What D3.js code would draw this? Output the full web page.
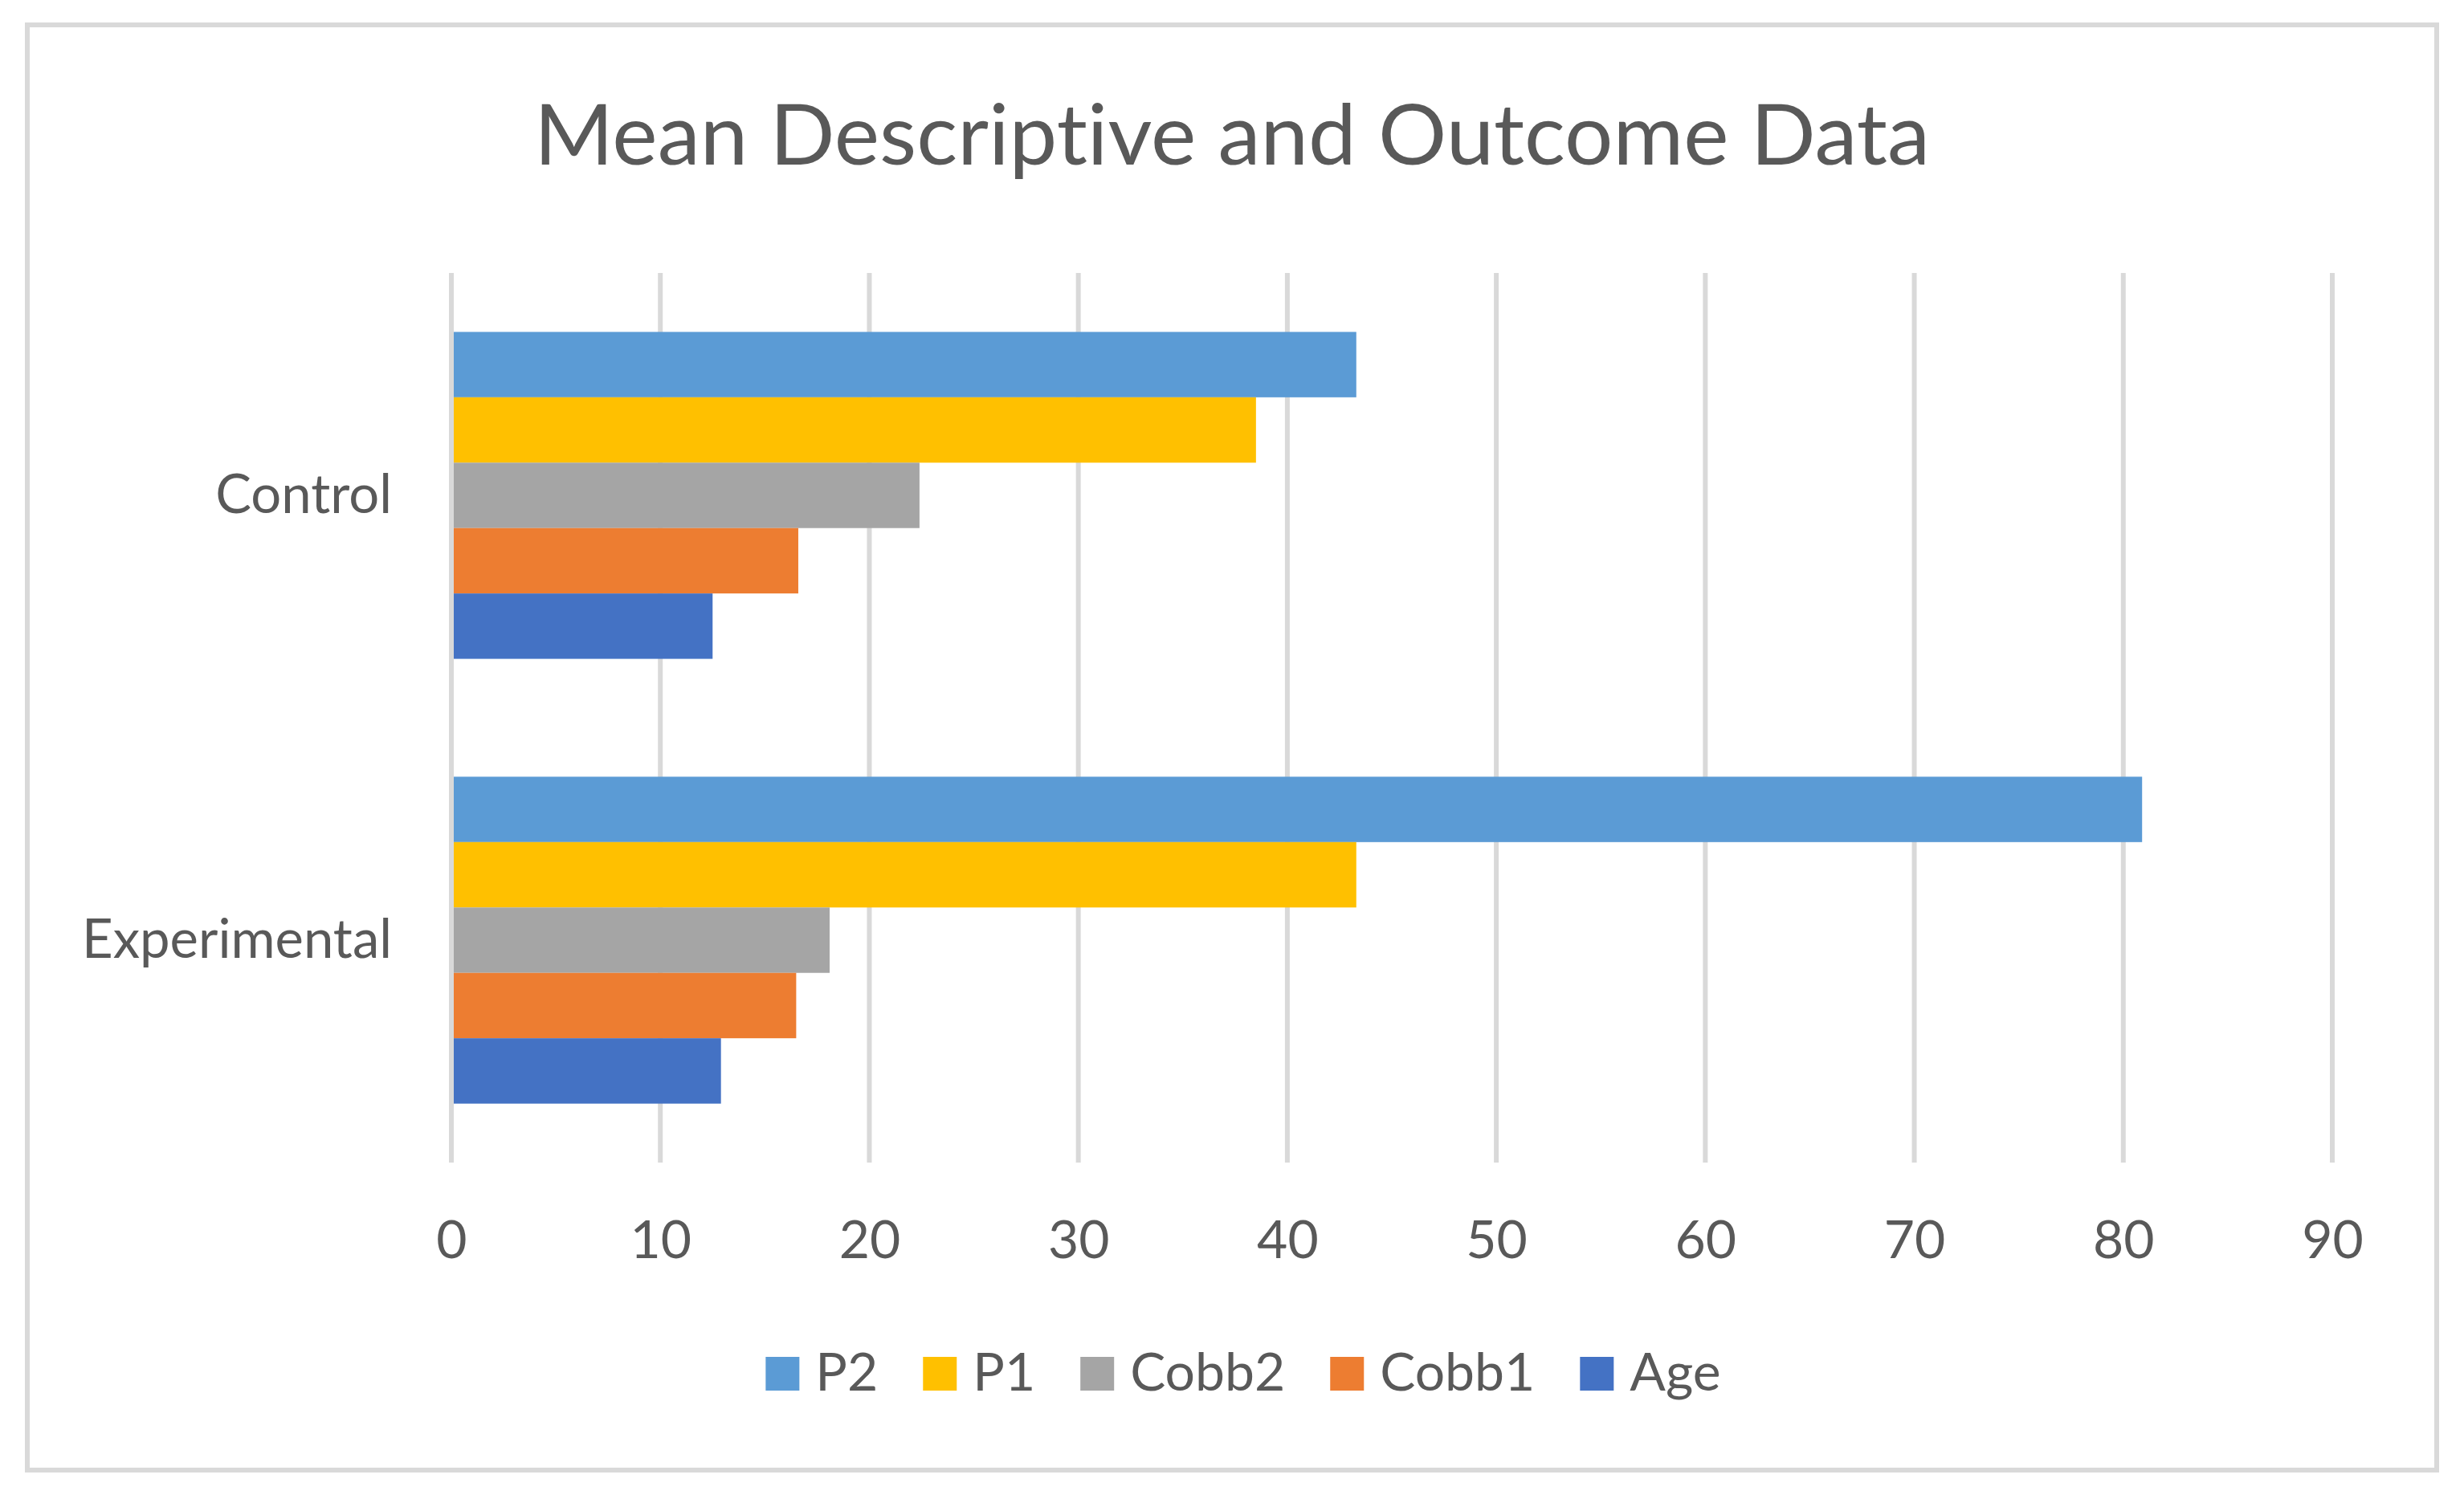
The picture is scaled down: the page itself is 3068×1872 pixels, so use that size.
<!DOCTYPE html>
<html>
<head>
<meta charset="utf-8">
<script src="https://cdn.jsdelivr.net/npm/d3@7"></script>
<style>
  html, body { margin: 0; padding: 0; background: #fff; }
  svg text { font-family: Lato, "Open Sans", sans-serif; fill: #595959; font-variant-ligatures: none; }
</style>
</head>
<body>
<svg id="chart"></svg>
<script>
// data
const categories = ["Control", "Experimental"];
const seriesNames = ["P2", "P1", "Cobb2", "Cobb1", "Age"];
const p2 = [43.3, 80.9];
const p1 = [38.5, 43.3];
const cobb2 = [22.4, 18.1];
const cobb1 = [16.6, 16.5];
const age = [12.5, 12.9];
const xTicks = [0, 10, 20, 30, 40, 50, 60, 70, 80, 90];
const seriesColors = ["#5B9BD5", "#FFC000", "#A5A5A5", "#ED7D31", "#4472C4"];

const seriesValues = [p2, p1, cobb2, cobb1, age];

const W = 3068, H = 1872;
const plot = { left: 562, right: 2904, top: 340, bottom: 1448 };

const svg = d3.select("#chart")
    .attr("width", W)
    .attr("height", H);

// outer frame
svg.append("rect")
    .attr("x", 34).attr("y", 31)
    .attr("width", 3000).attr("height", 1800)
    .attr("fill", "#fff")
    .attr("stroke", "#d9d9d9")
    .attr("stroke-width", 6);

// title
svg.append("text")
    .attr("x", 1534)
    .attr("y", 205)
    .attr("text-anchor", "middle")
    .attr("textLength", 1738)
    .attr("lengthAdjust", "spacingAndGlyphs")
    .style("font-size", "104px")
    .text("Mean Descriptive and Outcome Data");

// scales
const xScale = d3.scaleLinear()
    .domain([0, 90])
    .range([plot.left, plot.right]);

const yScale = d3.scaleBand()
    .domain(categories)
    .range([plot.top, plot.bottom])
    .paddingInner(0.265)
    .paddingOuter(0.1325);

const ySub = d3.scaleBand()
    .domain(seriesNames)
    .range([0, yScale.bandwidth()]);

// gridlines
svg.append("g")
    .selectAll("line")
    .data(xTicks)
    .join("line")
    .attr("x1", d => xScale(d)).attr("x2", d => xScale(d))
    .attr("y1", plot.top).attr("y2", plot.bottom)
    .attr("stroke", "#d9d9d9")
    .attr("stroke-width", 6);

// bars
const rows = [];
categories.forEach((c, i) => {
    seriesNames.forEach((s, j) => rows.push({ cat: c, series: s, value: seriesValues[j][i], color: seriesColors[j] }));
});

svg.append("g")
    .selectAll("rect")
    .data(rows)
    .join("rect")
    .attr("x", xScale(0) + 3)
    .attr("y", d => yScale(d.cat) + ySub(d.series))
    .attr("width", d => xScale(d.value) - xScale(0) - 3)
    .attr("height", ySub.bandwidth())
    .attr("fill", d => d.color);

// x axis labels
const xAxis = svg.append("g")
    .attr("transform", `translate(0,${plot.bottom})`)
    .call(d3.axisBottom(xScale).tickValues(xTicks).tickSize(0).tickPadding(0).tickFormat(d3.format("d")));
xAxis.select(".domain").remove();
xAxis.selectAll("text")
    .attr("y", 119)
    .attr("dy", null)
    .style("font-size", "66px")
    .style("font-family", "Lato, 'Open Sans', sans-serif")
    .attr("fill", "#595959");

// category labels
const yAxis = svg.append("g")
    .attr("transform", `translate(${plot.left},0)`)
    .call(d3.axisLeft(yScale).tickSize(0).tickPadding(74));
yAxis.select(".domain").remove();
yAxis.selectAll("text")
    .attr("dy", "0.33em")
    .style("font-size", "67px")
    .style("font-family", "Lato, 'Open Sans', sans-serif")
    .attr("fill", "#595959");

// legend
const legend = svg.append("g");
const legendGap = 56;
let cumulativeWidth = 0;
const legendItems = legend.selectAll("g")
    .data(seriesNames)
    .join("g");

legendItems.each(function (d, i) {
    const g = d3.select(this);
    g.append("rect")
        .attr("x", 0).attr("y", -42)
        .attr("width", 42).attr("height", 42)
        .attr("fill", seriesColors[i]);
    g.append("text")
        .attr("x", 62)
        .attr("y", 0)
        .style("font-size", "66px")
        .text(d);
    const itemWidth = this.getBBox().width;
    g.attr("transform", `translate(${cumulativeWidth},0)`);
    cumulativeWidth += itemWidth + legendGap;
});
const legendWidth = cumulativeWidth - legendGap;
legend.attr("transform", `translate(${1548 - legendWidth / 2},1732)`);
</script>
</body>
</html>
